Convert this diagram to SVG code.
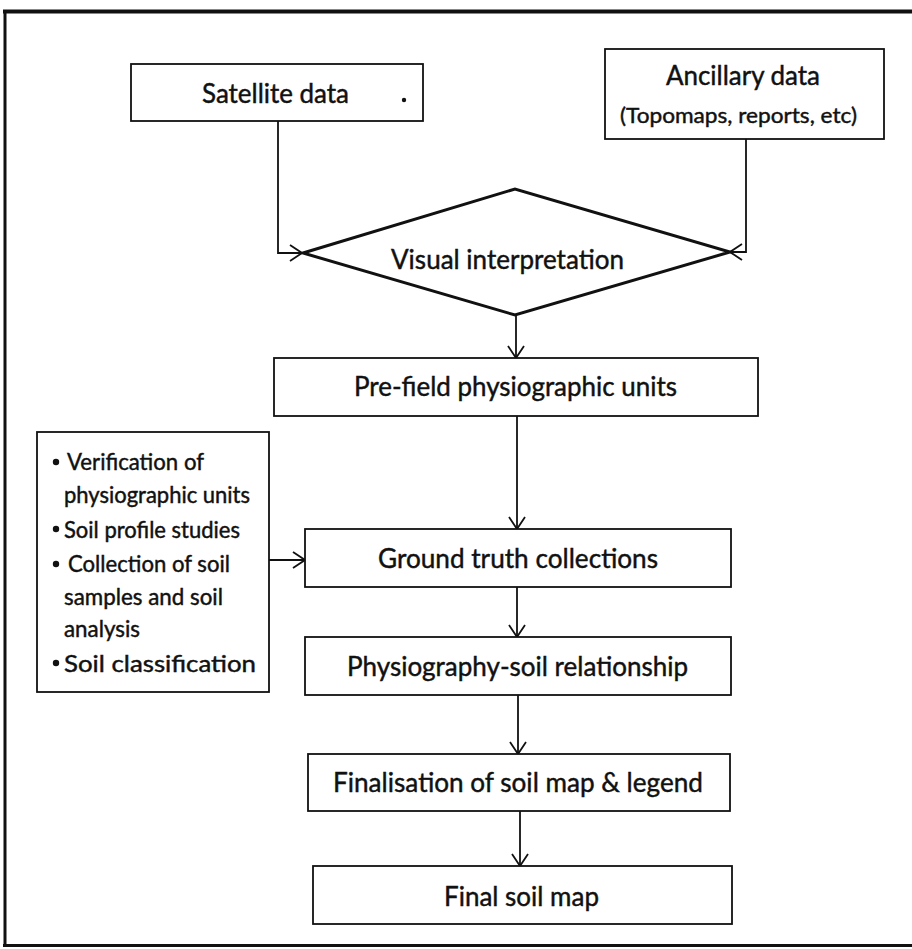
<svg xmlns="http://www.w3.org/2000/svg" width="912" height="949" viewBox="0 0 912 949">
  <defs>
    <style>
      .box { fill: #ffffff; stroke: #111111; stroke-width: 1.8; }
      .dia { fill: #ffffff; stroke: #111111; stroke-width: 3; stroke-linejoin: miter; }
      .wire { fill: none; stroke: #111111; stroke-width: 1.8; }
      .lbl { font-family: Lato, "Open Sans", "Liberation Sans", sans-serif; fill: #111111; stroke: #111111; stroke-width: 0.45; font-size: 27px; text-anchor: start; }
      .sub { font-size: 22px; }
      .lst { font-size: 23px; }
      .dot { fill: #111111; }
    </style>
    <marker id="arrowOpen" viewBox="0 0 14 18" refX="13" refY="9" markerWidth="14" markerHeight="18" markerUnits="userSpaceOnUse" orient="auto">
      <path d="M1,1 L13,9 L1,17" fill="none" stroke="#111111" stroke-width="1.8"/>
    </marker>
  </defs>

  <rect width="912" height="949" fill="#ffffff"/>

  <!-- outer frame -->
  <g id="frame" fill="none" stroke="#111111">
    <line x1="3" y1="11.5" x2="912" y2="11.5" stroke-width="4"/>
    <line x1="5" y1="10" x2="5" y2="947" stroke-width="3"/>
    <line x1="3" y1="945.5" x2="912" y2="945.5" stroke-width="3"/>
  </g>

  <!-- connectors -->
  <g id="connectors" class="wire">
    <polyline points="278,121 278,253 302,253" marker-end="url(#arrowOpen)"/>
    <polyline points="746,139 746,252 730,252" marker-end="url(#arrowOpen)"/>
    <line x1="516" y1="315" x2="516" y2="358" marker-end="url(#arrowOpen)"/>
    <line x1="517" y1="416" x2="517" y2="529" marker-end="url(#arrowOpen)"/>
    <line x1="517" y1="587" x2="517" y2="637" marker-end="url(#arrowOpen)"/>
    <line x1="518" y1="695" x2="518" y2="754" marker-end="url(#arrowOpen)"/>
    <line x1="520" y1="811" x2="520" y2="866" marker-end="url(#arrowOpen)"/>
    <line x1="269" y1="560" x2="305" y2="560" marker-end="url(#arrowOpen)"/>
  </g>

  <g id="satellite">
    <rect class="box" x="131" y="64" width="292" height="57"/>
    <text class="lbl" x="202" y="103" textLength="147" lengthAdjust="spacingAndGlyphs">Satellite data</text>
    <circle class="dot" cx="404" cy="100" r="2.2"/>
  </g>

  <g id="ancillary">
    <rect class="box" x="605" y="49" width="279" height="90"/>
    <text class="lbl" x="666" y="85" textLength="154" lengthAdjust="spacingAndGlyphs">Ancillary data</text>
    <text class="lbl sub" x="620" y="123" textLength="237" lengthAdjust="spacingAndGlyphs">(Topomaps, reports, etc)</text>
  </g>

  <g id="visual">
    <polygon class="dia" points="303,253 515,189 730,252 515,315"/>
    <text class="lbl" x="391" y="269" textLength="233" lengthAdjust="spacingAndGlyphs">Visual interpretation</text>
  </g>

  <g id="prefield">
    <rect class="box" x="274" y="358" width="484" height="58"/>
    <text class="lbl" x="354" y="396" textLength="323" lengthAdjust="spacingAndGlyphs">Pre-field physiographic units</text>
  </g>

  <g id="fieldwork">
    <rect class="box" x="37" y="432" width="232" height="260"/>
    <circle class="dot" cx="56" cy="462" r="3.2"/>
    <circle class="dot" cx="56" cy="529" r="3.2"/>
    <circle class="dot" cx="56" cy="564" r="3.2"/>
    <circle class="dot" cx="56" cy="663" r="3.2"/>
    <g class="lbl lst">
      <text x="67" y="470" textLength="137" lengthAdjust="spacingAndGlyphs">Verification of</text>
      <text x="64" y="503" textLength="186" lengthAdjust="spacingAndGlyphs">physiographic units</text>
      <text x="64" y="538" textLength="176" lengthAdjust="spacingAndGlyphs">Soil profile studies</text>
      <text x="68" y="572" textLength="162" lengthAdjust="spacingAndGlyphs">Collection of soil</text>
      <text x="64" y="605" textLength="159" lengthAdjust="spacingAndGlyphs">samples and soil</text>
      <text x="64" y="637" textLength="76" lengthAdjust="spacingAndGlyphs">analysis</text>
      <text x="64" y="672" textLength="192" lengthAdjust="spacingAndGlyphs">Soil classification</text>
    </g>
  </g>

  <g id="groundtruth">
    <rect class="box" x="305" y="529" width="426" height="58"/>
    <text class="lbl" x="378" y="568" textLength="280" lengthAdjust="spacingAndGlyphs">Ground truth collections</text>
  </g>

  <g id="relationship">
    <rect class="box" x="305" y="637" width="426" height="58"/>
    <text class="lbl" x="347" y="676" textLength="341" lengthAdjust="spacingAndGlyphs">Physiography-soil relationship</text>
  </g>

  <g id="finalisation">
    <rect class="box" x="308" y="754" width="422" height="57"/>
    <text class="lbl" x="333" y="792" textLength="370" lengthAdjust="spacingAndGlyphs">Finalisation of soil map &amp; legend</text>
  </g>

  <g id="finalmap">
    <rect class="box" x="313" y="866" width="419" height="58"/>
    <text class="lbl" x="444" y="906" textLength="155" lengthAdjust="spacingAndGlyphs">Final soil map</text>
  </g>
</svg>
